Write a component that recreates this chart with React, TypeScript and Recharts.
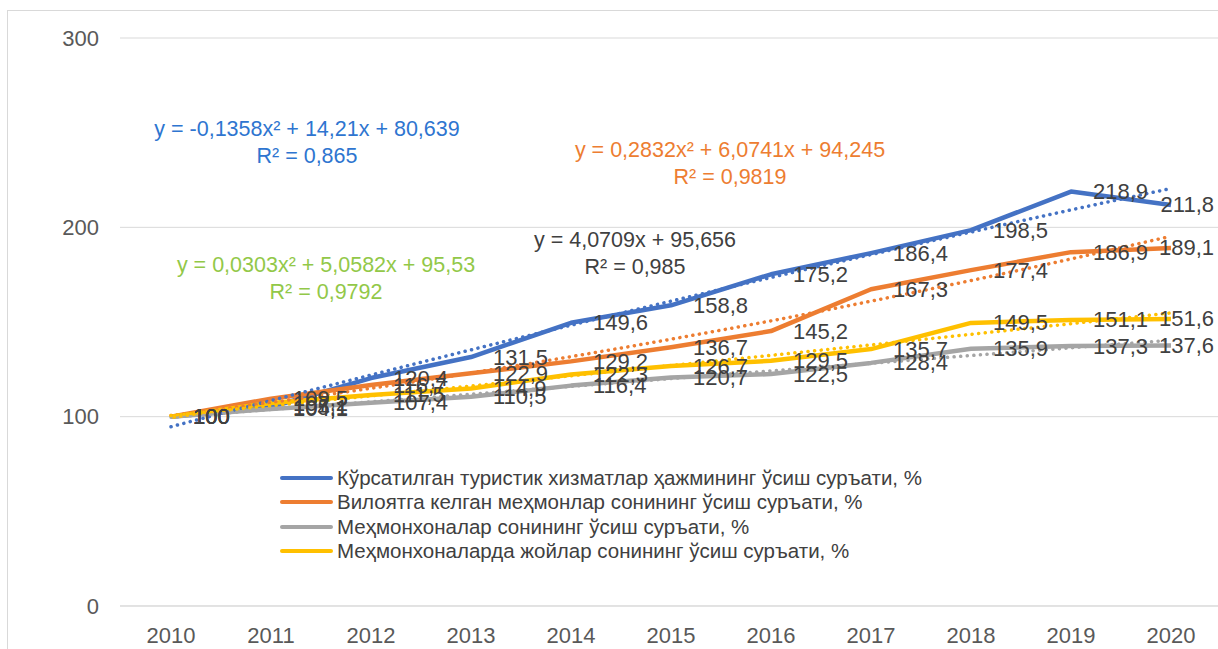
import { LineChart, Line, XAxis, YAxis, CartesianGrid, Legend, LabelList } from "recharts";

const years = ["2010", "2011", "2012", "2013", "2014", "2015", "2016", "2017", "2018", "2019", "2020"];

// growth rates, % (2010 = 100)
const servicesGrowth = [100, 105.1, 120.4, 131.5, 149.6, 158.8, 175.2, 186.4, 198.5, 218.9, 211.8];
const visitorsGrowth = [100, 109.5, 116.7, 122.9, 129.2, 136.7, 145.2, 167.3, 177.4, 186.9, 189.1];
const hotelsGrowth = [100, 104.1, 107.4, 110.5, 116.4, 120.7, 122.5, 128.4, 135.9, 137.3, 137.6];
const bedsGrowth = [100, 107.2, 111.5, 114.9, 122.3, 126.7, 129.5, 135.7, 149.5, 151.1, 151.6];

// dotted trendlines
const servicesTrend = [94.7, 108.5, 122.0, 135.3, 148.3, 161.0, 173.5, 185.6, 197.5, 209.2, 220.5];
const visitorsTrend = [100.6, 107.5, 115.0, 123.1, 131.7, 140.9, 150.6, 161.0, 171.9, 183.3, 195.3];
const hotelsTrend = [99.7, 103.8, 107.9, 111.9, 116.0, 120.1, 124.2, 128.2, 132.3, 136.4, 140.4];
const bedsTrend = [100.6, 105.8, 111.0, 116.2, 121.6, 127.0, 132.4, 137.9, 143.5, 149.1, 154.8];

const yTicks = [0, 100, 200, 300];

const seriesNames = [
  "Кўрсатилган туристик хизматлар ҳажмининг ўсиш суръати, %",
  "Вилоятга келган меҳмонлар сонининг ўсиш суръати, %",
  "Меҳмонхоналар сонининг ўсиш суръати, %",
  "Меҳмонхоналарда жойлар сонининг ўсиш суръати, %",
];
const seriesKeys = ["services", "visitors", "hotels", "beds"];
const seriesColors = ["#4472C4", "#ED7D31", "#A5A5A5", "#FFC000"];

const equations = [
  { line1: "y = -0,1358x² + 14,21x + 80,639", line2: "R² = 0,865", color: "#2E75D0", cx: 307, cy: 130 },
  { line1: "y = 0,2832x² + 6,0741x + 94,245", line2: "R² = 0,9819", color: "#ED7D31", cx: 730, cy: 151 },
  { line1: "y = 4,0709x + 95,656", line2: "R² = 0,985", color: "#404040", cx: 635, cy: 241 },
  { line1: "y = 0,0303x² + 5,0582x + 95,53", line2: "R² = 0,9792", color: "#92C848", cx: 326, cy: 266 },
];

const data = years.map((year, i) => ({
  year,
  services: servicesGrowth[i],
  visitors: visitorsGrowth[i],
  hotels: hotelsGrowth[i],
  beds: bedsGrowth[i],
  servicesTrend: servicesTrend[i],
  visitorsTrend: visitorsTrend[i],
  hotelsTrend: hotelsTrend[i],
  bedsTrend: bedsTrend[i],
}));

const FONT = "'Liberation Sans', Arial, sans-serif";
const CHART_W = 1210;
const CHART_H = 639;

const fmt = (v: number) => (Number.isInteger(v) ? String(v) : v.toFixed(1).replace(".", ","));

const renderLabel = (props: any) => {
  const { x, y, value, index } = props;
  const last = index === years.length - 1;
  return (
    <text
      x={last ? CHART_W - 4 : x + 22}
      y={y}
      textAnchor={last ? "end" : "start"}
      dominantBaseline="central"
      fill="#404040"
      fontSize={22}
      fontFamily={FONT}
    >
      {fmt(value)}
    </text>
  );
};

const renderLegend = () => (
  <div style={{ fontFamily: FONT, fontSize: 20.5, color: "#404040" }}>
    {seriesNames.map((name, i) => (
      <div key={name} style={{ display: "flex", alignItems: "center", height: 24.3, whiteSpace: "nowrap" }}>
        <span style={{ display: "inline-block", width: 53, height: 4, borderRadius: 2, background: seriesColors[i], marginRight: 4 }} />
        <span>{name}</span>
      </div>
    ))}
  </div>
);

const App = () => {
  return (
    <div style={{ position: "fixed", left: 0, top: 0, width: 1218, height: 649, overflow: "hidden", background: "#fff" }}>
      <div style={{ position: "absolute", left: 7, top: 10, width: 1220, height: 650, borderLeft: "1px solid #d9d9d9", borderTop: "1px solid #d9d9d9" }} />
      <div style={{ position: "absolute", left: 8, top: 10 }}>
        <LineChart width={CHART_W} height={CHART_H} data={data} margin={{ top: 28, right: 0, bottom: 0, left: 0 }}>
          <CartesianGrid stroke="#d9d9d9" vertical={false} />
          <XAxis
            dataKey="year"
            scale="point"
            padding={{ left: 51, right: 47 }}
            stroke="#d9d9d9"
            tickLine={false}
            tickSize={0}
            tickMargin={21}
            height={43}
            tick={{ fill: "#595959", fontSize: 22, fontFamily: FONT }}
          />
          <YAxis
            domain={[0, 300]}
            ticks={yTicks}
            axisLine={false}
            tickLine={false}
            tickSize={0}
            tickMargin={21}
            width={112}
            tick={{ fill: "#595959", fontSize: 22, fontFamily: FONT }}
          />
          <Legend
            layout="vertical"
            align="center"
            verticalAlign="middle"
            content={renderLegend}
            wrapperStyle={{ left: 272, top: 456, width: 700 }}
          />
          {seriesKeys.map((key, i) => (
            <Line
              key={key}
              dataKey={key}
              stroke={seriesColors[i]}
              strokeWidth={4.5}
              strokeLinejoin="round"
              dot={false}
              activeDot={false}
              isAnimationActive={false}
            />
          ))}
          {seriesKeys.map((key, i) => (
            <Line
              key={key + "Trend"}
              dataKey={key + "Trend"}
              type="monotone"
              stroke={seriesColors[i]}
              strokeWidth={3.5}
              strokeDasharray="0.1 6.5"
              strokeLinecap="round"
              dot={false}
              activeDot={false}
              legendType="none"
              isAnimationActive={false}
            />
          ))}
          {seriesKeys.map((key) => (
            <Line
              key={key + "Labels"}
              dataKey={key}
              stroke="none"
              dot={false}
              activeDot={false}
              legendType="none"
              isAnimationActive={false}
            >
              <LabelList dataKey={key} content={renderLabel} />
            </Line>
          ))}
        </LineChart>
      </div>
      {equations.map((eq) => (
        <div
          key={eq.line1}
          style={{
            position: "absolute",
            left: eq.cx - 200,
            top: eq.cy - 14,
            width: 400,
            textAlign: "center",
            fontFamily: FONT,
            fontSize: 21.5,
            lineHeight: "27px",
            color: eq.color,
            whiteSpace: "nowrap",
          }}
        >
          <div>{eq.line1}</div>
          <div>{eq.line2}</div>
        </div>
      ))}
    </div>
  );
};

export default App;
